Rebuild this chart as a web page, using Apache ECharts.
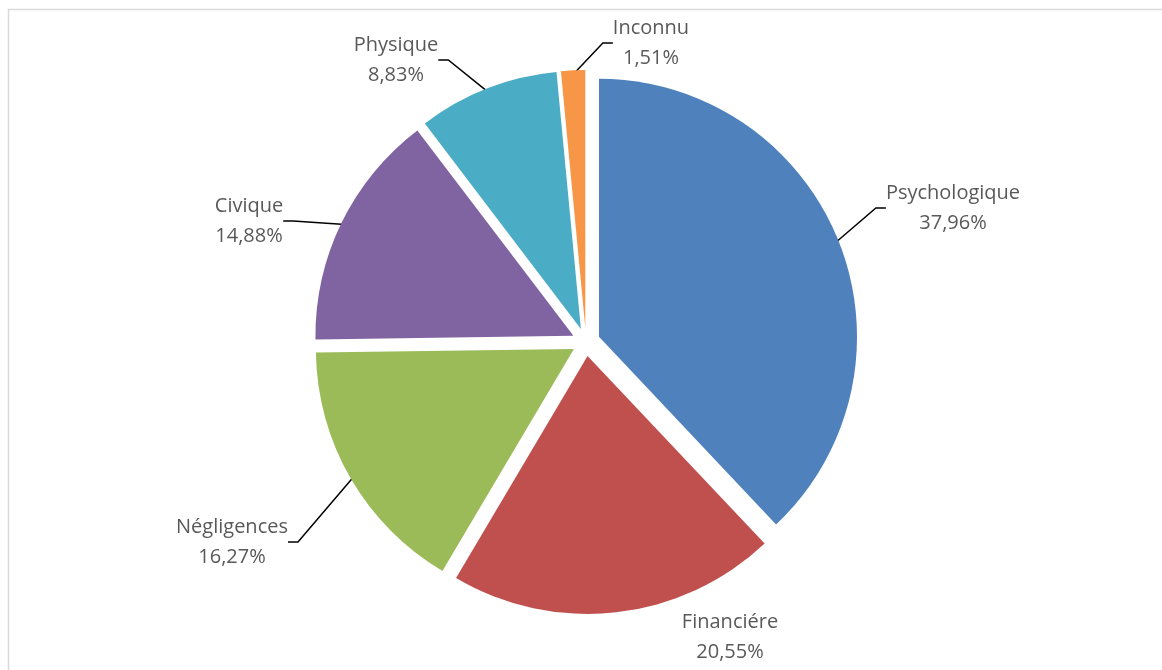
<!DOCTYPE html>
<html>
<head>
<meta charset="utf-8">
<script src="https://cdn.jsdelivr.net/npm/echarts@6/dist/echarts.min.js"></script>
<style>
html,body{margin:0;padding:0;background:#fff;}
#c{width:1162px;height:670px;}
</style>
</head>
<body>
<div id="c"></div>
<script>
const categories = ['Psychologique', 'Financiére', 'Négligences', 'Civique', 'Physique', 'Inconnu'];
const values = [37.96, 20.55, 16.27, 14.88, 8.83, 1.51];
const colors = ['#4F81BD', '#C0504D', '#9BBB59', '#8064A2', '#4BACC6', '#F79646'];
// label anchor positions (text block centre), as placed in the original chart
const labelPos = [[953, 208], [730, 637], [232, 542], [249, 221], [396, 60], [651, 43]];

const chart = echarts.init(document.getElementById('c'), null, {renderer: 'canvas'});
function fmt(v) { return v.toFixed(2).replace('.', ','); }
const sliceData = categories.map((n, i) => ({
  name: n, value: values[i], selected: true,
  itemStyle: {color: colors[i]}
}));
const labelData = categories.map((n, i) => ({
  name: n, value: values[i],
  labelLine: {show: i !== 1}
}));
chart.setOption({
  animation: false,
  backgroundColor: '#ffffff',
  graphic: [{
    type: 'polyline',
    shape: {points: [[8.5, 680], [8.5, 9.5], [1170, 9.5]]},
    style: {stroke: '#d9d9d9', lineWidth: 1.5, fill: null},
    silent: true
  }],
  series: [{
    type: 'pie',
    center: [586, 342],
    radius: [0, 258],
    startAngle: 90,
    clockwise: true,
    selectedMode: 'multiple',
    selectedOffset: 14,
    emphasis: {disabled: true},
    label: {show: false},
    labelLine: {show: false},
    data: sliceData
  }, {
    type: 'pie',
    center: [586, 342],
    radius: [0, 268],
    startAngle: 90,
    clockwise: true,
    silent: true,
    avoidLabelOverlap: false,
    emphasis: {disabled: true},
    itemStyle: {color: 'rgba(0,0,0,0)'},
    data: labelData,
    label: {
      show: true,
      formatter: p => p.name + '\n' + fmt(p.value) + '%',
      color: '#595959',
      fontFamily: 'Open Sans',
      fontSize: 20,
      lineHeight: 30
    },
    labelLine: {
      show: true,
      length: 20,
      length2: 10,
      lineStyle: {color: '#000000', width: 1.5}
    },
    labelLayout: function (p) {
      const pos = labelPos[p.dataIndex];
      return {x: pos[0], y: pos[1], align: 'center', verticalAlign: 'middle'};
    }
  }]
});
</script>
</body>
</html>
